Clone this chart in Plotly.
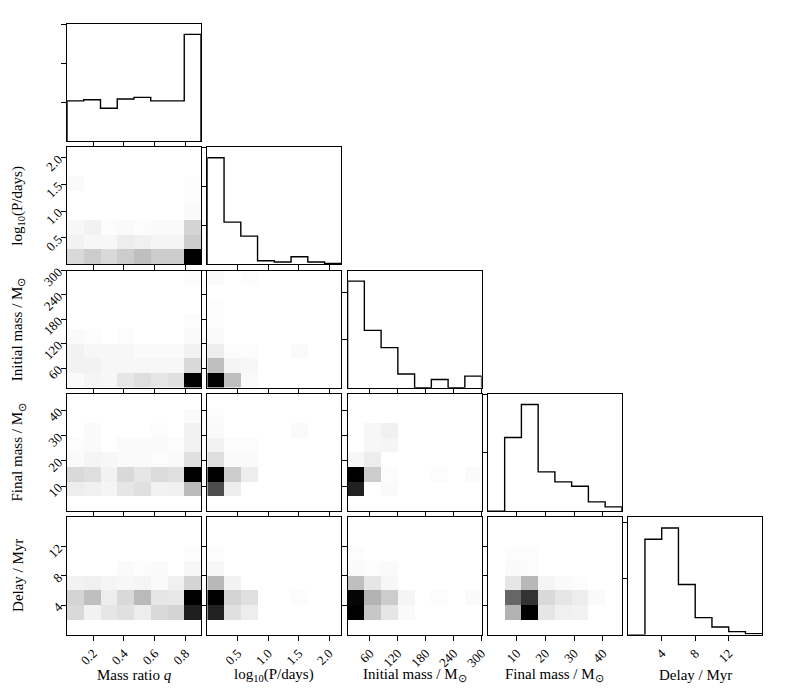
import numpy as np
import plotly.graph_objects as go

# ---------------- data ----------------
labels = ["Mass ratio <i>q</i>", "log<sub>10</sub>(P/days)", "Initial mass / M<sub>⊙</sub>",
          "Final mass / M<sub>⊙</sub>", "Delay / Myr"]
ranges = [(0.03, 0.9), (0.0, 2.2), (12.0, 300.0), (0.0, 46.6), (0.0, 16.0)]
nbins = 8
tickvals = [[0.2, 0.4, 0.6, 0.8], [0.5, 1.0, 1.5, 2.0], [60, 120, 180, 240, 300],
            [10, 20, 30, 40], [4, 8, 12]]
ticktext = [["0.2", "0.4", "0.6", "0.8"], ["0.5", "1.0", "1.5", "2.0"],
            ["60", "120", "180", "240", "300"], ["10", "20", "30", "40"], ["4", "8", "12"]]

# marginal histograms (arbitrary units)
hist_q = [1.03, 1.06, 0.84, 1.08, 1.12, 1.03, 1.03, 2.74]
hist_logP = [2.735, 1.085, 0.726, 0.094, 0.06, 0.197, 0.06, 0.026]
hist_mi = [2.23, 1.20, 0.84, 0.29, 0.0, 0.175, 0.0, 0.245]
hist_mf = [0.0, 1.263, 1.829, 0.674, 0.503, 0.429, 0.16, 0.074]
hist_delay = [0.0, 1.698, 1.899, 0.893, 0.302, 0.136, 0.053, 0.018]
hists = [hist_q, hist_logP, hist_mi, hist_mf, hist_delay]
diag_ticks = [[1, 2, 3], [1, 2, 3], [1, 2], [1, 2], [1, 2]]

Z0 = [0, 0, 0, 0, 0, 0, 0, 0]
# 2D densities: rows = y bins from bottom to top, cols = x bins
d_logP_q = [
    [0.15, 0.20, 0.15, 0.20, 0.25, 0.20, 0.20, 1.00],
    [0.05, 0.03, 0.03, 0.07, 0.06, 0.04, 0.04, 0.20],
    [0.03, 0.05, 0.01, 0.02, 0.01, 0.02, 0.02, 0.17],
    [0, 0, 0, 0, 0, 0, 0, 0.02],
    [0, 0, 0, 0, 0, 0, 0, 0.01],
    [0.02, 0, 0, 0, 0, 0, 0, 0.01],
    Z0, Z0]
d_mi_q = [
    [0.02, 0.04, 0.03, 0.10, 0.13, 0.10, 0.12, 1.00],
    [0.05, 0.05, 0.03, 0.03, 0.03, 0.03, 0.03, 0.15],
    [0.05, 0.03, 0.03, 0.03, 0.02, 0.02, 0.02, 0.05],
    [0.02, 0.01, 0, 0.01, 0, 0, 0, 0.02],
    [0, 0, 0, 0, 0, 0, 0, 0.01],
    Z0, Z0,
    [0, 0, 0, 0, 0, 0, 0, 0.01]]
d_mi_logP = [
    [1.00, 0.25, 0.02, 0, 0, 0, 0, 0],
    [0.25, 0.04, 0.03, 0, 0, 0, 0, 0],
    [0.07, 0.01, 0.01, 0, 0, 0.02, 0, 0],
    [0.02, 0, 0, 0, 0, 0, 0, 0],
    [0.01, 0, 0, 0, 0, 0, 0, 0],
    [0.01, 0, 0, 0, 0, 0, 0, 0],
    Z0,
    [0.02, 0, 0.01, 0, 0, 0, 0, 0]]
d_mf_q = [
    Z0,
    [0.07, 0.06, 0.04, 0.10, 0.12, 0.05, 0.06, 0.27],
    [0.15, 0.13, 0.05, 0.15, 0.10, 0.14, 0.12, 1.00],
    [0.02, 0.04, 0.03, 0.02, 0.02, 0.01, 0.02, 0.12],
    [0.01, 0.02, 0, 0.02, 0.02, 0.02, 0.01, 0.05],
    [0, 0.02, 0, 0, 0, 0.01, 0, 0.05],
    [0, 0, 0, 0, 0, 0, 0, 0.02],
    Z0]
d_mf_logP = [
    Z0,
    [0.70, 0.07, 0, 0, 0, 0, 0, 0],
    [1.00, 0.20, 0.07, 0, 0, 0, 0, 0],
    [0.13, 0.02, 0.02, 0, 0, 0, 0, 0],
    [0.05, 0.01, 0.01, 0, 0, 0, 0, 0],
    [0.02, 0, 0, 0, 0, 0.02, 0, 0],
    [0.01, 0, 0, 0, 0, 0, 0, 0],
    Z0]
d_mf_mi = [
    Z0,
    [0.87, 0, 0.02, 0, 0, 0, 0, 0],
    [1.00, 0.20, 0.01, 0, 0, 0.01, 0, 0.02],
    [0.03, 0.07, 0, 0, 0, 0, 0, 0],
    [0, 0.03, 0.04, 0, 0, 0, 0, 0],
    [0, 0.03, 0.06, 0, 0, 0, 0, 0],
    Z0, Z0]
d_delay_q = [
    Z0,
    [0.15, 0.05, 0.10, 0.12, 0.07, 0.15, 0.17, 0.88],
    [0.17, 0.25, 0.07, 0.15, 0.27, 0.10, 0.09, 1.00],
    [0.05, 0.06, 0.04, 0.03, 0.04, 0.02, 0.06, 0.17],
    [0, 0, 0, 0.02, 0.01, 0.02, 0, 0.03],
    [0, 0, 0, 0, 0, 0, 0, 0.01],
    Z0, Z0]
d_delay_logP = [
    Z0,
    [0.87, 0.12, 0.07, 0, 0, 0, 0, 0],
    [1.00, 0.17, 0.12, 0, 0, 0.01, 0, 0],
    [0.28, 0.05, 0, 0, 0, 0, 0, 0],
    [0.03, 0, 0, 0, 0, 0, 0, 0],
    [0.01, 0, 0, 0, 0, 0, 0, 0],
    Z0, Z0]
d_delay_mi = [
    Z0,
    [1.00, 0.22, 0.10, 0.02, 0, 0, 0, 0],
    [0.98, 0.30, 0.20, 0.04, 0, 0.01, 0, 0.02],
    [0.25, 0.10, 0.03, 0, 0, 0, 0, 0],
    [0.02, 0.01, 0.02, 0, 0, 0, 0, 0],
    [0.01, 0, 0, 0, 0, 0, 0, 0],
    Z0, Z0]
d_delay_mf = [
    Z0,
    [0, 0.30, 1.00, 0.10, 0.06, 0.05, 0, 0],
    [0, 0.60, 0.80, 0.15, 0.10, 0.07, 0.02, 0],
    [0, 0.10, 0.28, 0.04, 0.02, 0.01, 0, 0],
    [0, 0.02, 0.01, 0, 0, 0, 0, 0],
    [0, 0.01, 0.01, 0, 0, 0, 0, 0],
    Z0, Z0]
dens = {(1, 0): d_logP_q, (2, 0): d_mi_q, (2, 1): d_mi_logP,
        (3, 0): d_mf_q, (3, 1): d_mf_logP, (3, 2): d_mf_mi,
        (4, 0): d_delay_q, (4, 1): d_delay_logP, (4, 2): d_delay_mi, (4, 3): d_delay_mf}

# ---------------- layout ----------------
W, H = 789, 694
n = 5
x0, pw, pstep = 67.0, 134.0, 140.3
y0, ph, vstep = 23.7, 117.3, 123.4
FONT = "Liberation Serif"

fig = go.Figure()
layout = dict(width=W, height=H, margin=dict(l=0, r=0, t=0, b=0),
              plot_bgcolor="white", paper_bgcolor="white", showlegend=False,
              font=dict(family=FONT, size=12, color="black"))

gray = [[0, "white"], [1, "black"]]
k = 0
for i in range(n):
    for j in range(i + 1):
        k += 1
        xa = "x" if k == 1 else f"x{k}"
        ya = "y" if k == 1 else f"y{k}"
        edges = np.linspace(ranges[j][0], ranges[j][1], nbins + 1)
        if i == j:
            h = hists[j]
            xs = [edges[0]] + list(edges[:-1]) + [edges[-1]]
            ys = [0] + list(h) + [0]
            fig.add_trace(go.Scatter(x=xs, y=ys, mode="lines", line_shape="hv",
                                     line=dict(color="black", width=1.4),
                                     xaxis=xa, yaxis=ya, hoverinfo="skip"))
            yrange = [0, 1.1 * max(h)]
            ytv = diag_ticks[j]
            yshow = False
            ytt = None
        else:
            yedges = np.linspace(ranges[i][0], ranges[i][1], nbins + 1)
            fig.add_trace(go.Heatmap(x=edges, y=yedges, z=dens[(i, j)], colorscale=gray,
                                     zmin=0, zmax=1, showscale=False,
                                     xaxis=xa, yaxis=ya, hoverinfo="skip"))
            yrange = list(ranges[i])
            ytv = tickvals[i]
            ytt = ticktext[i]
            yshow = (j == 0)
        xd = [(x0 + j * pstep) / W, (x0 + j * pstep + pw) / W]
        yd = [1 - (y0 + i * vstep + ph) / H, 1 - (y0 + i * vstep) / H]
        common = dict(showline=True, mirror=True, linecolor="black", linewidth=1,
                      ticks="outside", ticklen=5, tickwidth=1, tickcolor="black",
                      showgrid=False, zeroline=False, fixedrange=True, automargin=False,
                      tickangle=-45, tickfont=dict(family=FONT, size=13))
        layout["xaxis" if k == 1 else f"xaxis{k}"] = dict(
            common, domain=xd, anchor=ya, range=list(ranges[j]),
            tickvals=tickvals[j], ticktext=ticktext[j], showticklabels=(i == n - 1))
        ydict = dict(common, domain=yd, anchor=xa, range=yrange, tickvals=ytv,
                     showticklabels=yshow)
        if ytt is not None:
            ydict["ticktext"] = ytt
        layout["yaxis" if k == 1 else f"yaxis{k}"] = ydict

ann = []
for j in range(n):
    ann.append(dict(text=labels[j], x=(x0 + j * pstep + pw / 2) / W, y=1 - 675 / H,
                    xref="paper", yref="paper", showarrow=False, xanchor="center",
                    yanchor="middle", font=dict(family=FONT, size=15)))
for i in range(1, n):
    ann.append(dict(text=labels[i], x=18 / W, y=1 - (y0 + i * vstep + ph / 2) / H,
                    xref="paper", yref="paper", showarrow=False, textangle=-90,
                    xanchor="center", yanchor="middle", font=dict(family=FONT, size=15)))
layout["annotations"] = ann
fig.update_layout(**layout)
fig.write_html("out.html", config={"displayModeBar": False, "staticPlot": True},
               post_script="document.body.style.margin='0px';document.body.style.overflow='hidden';")
